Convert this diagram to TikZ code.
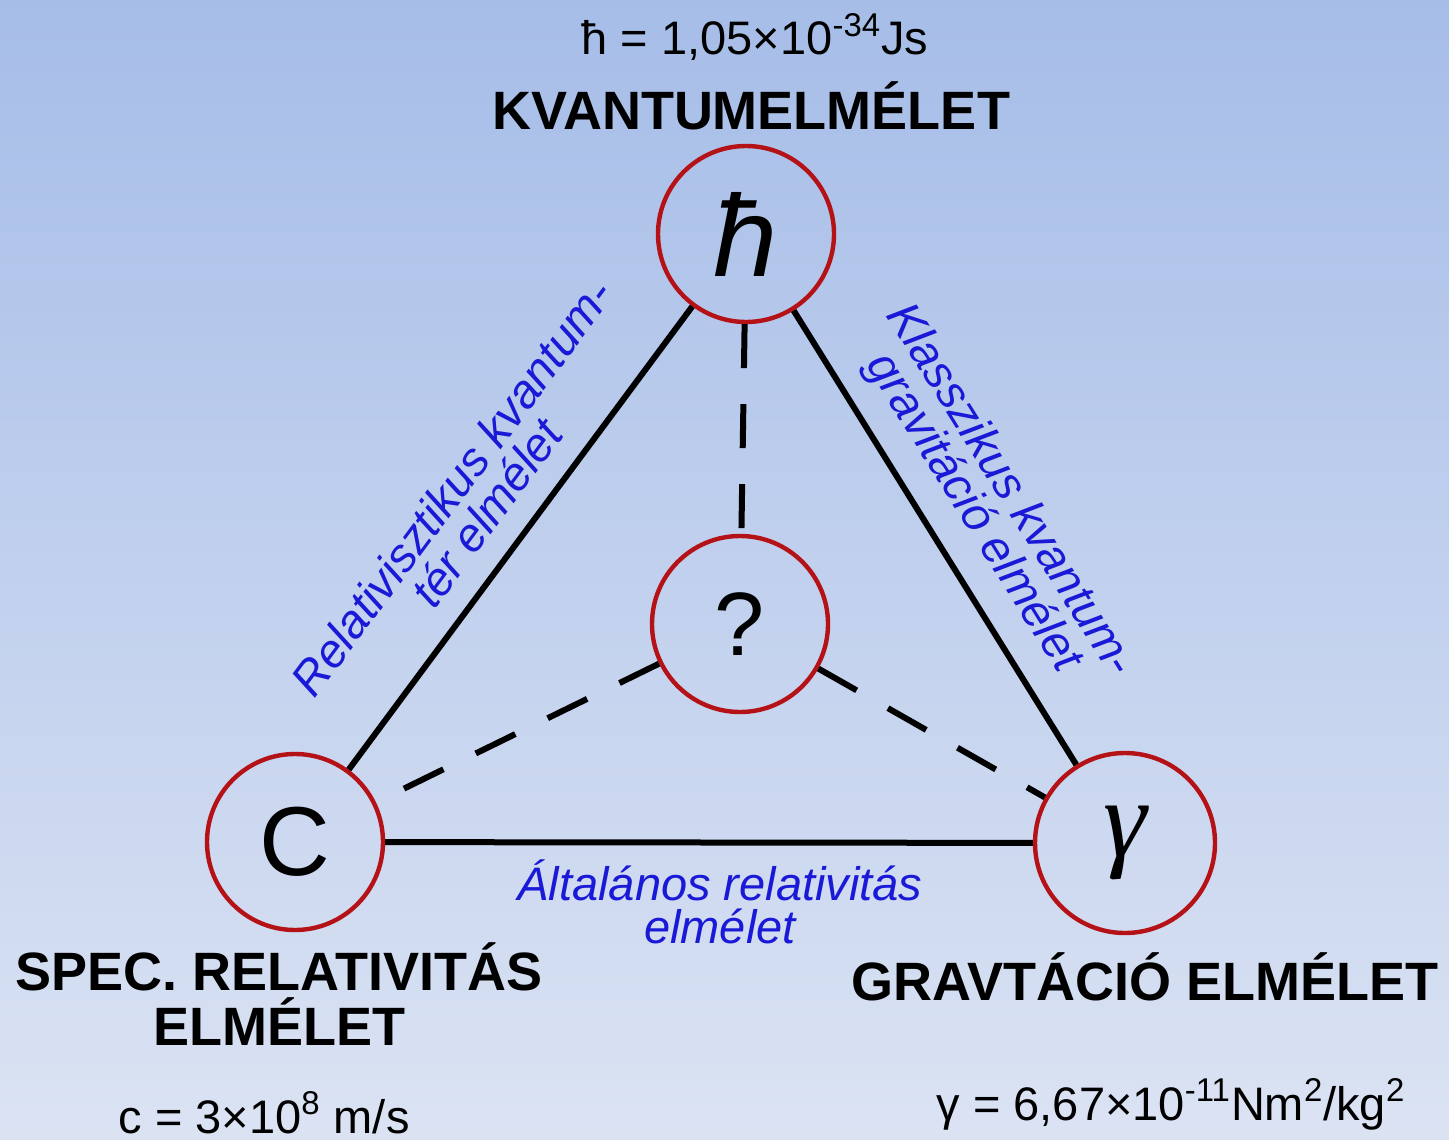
\documentclass[tikz,border=0pt]{standalone}
\usepackage{fontspec}
\setmainfont{Liberation Sans}
\newfontfamily\greekserif{Liberation Serif}
\usetikzlibrary{positioning}

\definecolor{ringred}{RGB}{180,18,22}
\definecolor{linkblue}{RGB}{25,25,215}
\definecolor{bgtop}{RGB}{166,189,232}
\definecolor{bgbottom}{RGB}{219,227,243}

\tikzset{
  ring/.style={circle, draw=ringred, line width=2.2pt, minimum size=88pt, inner sep=0pt},
  theory/.style={font=\fontsize{27}{27.5}\selectfont\bfseries, align=center},
  constant/.style={font=\fontsize{23.5}{25}\selectfont},
  link/.style={font=\fontsize{23.5}{21.5}\selectfont\itshape, text=linkblue, align=center},
  solidline/.style={line width=3pt},
  dashline/.style={line width=3pt, dash pattern=on 22pt off 18pt}
}

\begin{document}
\begin{tikzpicture}[x=0.5pt, y=-0.5pt]
    \useasboundingbox (0,0) rectangle (1449,1139);
    \shade[top color=bgtop, bottom color=bgbottom] (0,0) rectangle (1449,1139);

    % the four constants
    \node[ring] (hbar) at (746,234) {\fontsize{58}{60}\selectfont\itshape ħ};
    \node[ring] (quest) at (740,624) {\fontsize{45}{50}\selectfont ?};
    \node[ring] (light) at (295,842) {\fontsize{49}{50}\selectfont C};
    \node[ring, minimum size=90pt] (grav) at (1125,843) {\fontsize{55}{60}\selectfont\greekserif\itshape γ};

    % known theories
    \draw[solidline] (hbar) -- (light);
    \draw[solidline] (hbar) -- (grav);
    \draw[solidline] (light) -- (grav);

    % the unknown one
    \draw[dashline] (hbar) -- (quest);
    \draw[dashline] (quest) -- (light);
    \draw[dashline] (quest) -- (grav);

    % edge labels
    \node[link, rotate=53.4] (qftlabel) at (469,500) {Relativisztikus kvantum-\\tér elmélet};
    \node[link, rotate=-58.1] (qglabel) at (991,502) {Klasszikus kvantum-\\gravitáció elmélet};
    \node[link, anchor=base] (grlabel) at (720,943) {Általános relativitás\\elmélet};

    % corner labels
    \node[constant, anchor=base] (hbarval) at (755,55) {ħ = 1,05×10\textsuperscript{-34}Js};
    \node[theory, anchor=base] (qtheory) at (751,130) {KVANTUMELMÉLET};
    \node[theory, anchor=base] (srtheory) at (279,1045) {SPEC. RELATIVITÁS\\ELMÉLET};
    \node[theory, anchor=base] (gtheory) at (1145,1000) {GRAVTÁCIÓ ELMÉLET};
    \node[constant, anchor=base] (cval) at (264,1133) {c = 3×10\textsuperscript{8} m/s};
    \node[constant, anchor=base] (gval) at (1171,1120) {γ = 6,67×10\textsuperscript{-11}Nm\textsuperscript{2}/kg\textsuperscript{2}};
\end{tikzpicture}
\end{document}
